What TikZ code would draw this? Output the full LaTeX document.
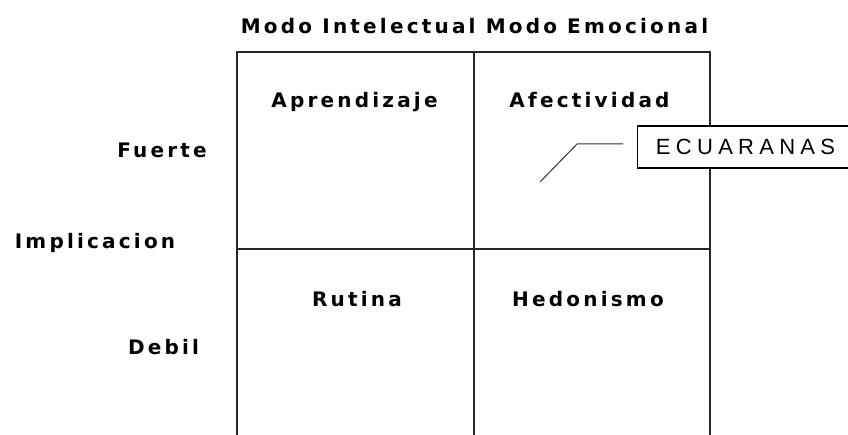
\documentclass[tikz,border=0pt]{standalone}
\usepackage{fontspec}
\newfontfamily\lblfont{DejaVu Sans}[LetterSpace=16]
\newfontfamily\tagfont{Liberation Sans}[LetterSpace=24]
\begin{document}
\begin{tikzpicture}[x=1pt,y=-1pt,
  lbl/.style={font=\lblfont\fontsize{20}{24}\selectfont\bfseries, inner sep=0pt, anchor=base},
  tag/.style={font=\tagfont\fontsize{22}{25}\selectfont, draw, line width=1.1pt, fill=white,
              minimum width=216pt, minimum height=42pt, inner sep=0pt, anchor=west},
  grid/.style={line width=1.3pt, black!85}]
\useasboundingbox (0,0) rectangle (848,435);
\clip (0,0) rectangle (848,435);
% grid
\coordinate (tl) at (237,52);
\coordinate (tm) at (474,52);
\coordinate (tr) at (710,52);
\coordinate (ml) at (237,249);
\coordinate (mr) at (710,249);
\coordinate (bl) at (237,437);
\coordinate (bm) at (474,437);
\coordinate (br) at (710,437);
\draw[grid] (bl) -- (tl) -- (tr) -- (br);
\draw[grid] (tm) -- (bm);
\draw[grid] (ml) -- (mr);
% labels
\node[lbl] (title) at (474.5,34) {Modo Intelectual Modo Emocional};
\node[lbl] (apr) at (354.5,108) {Aprendizaje};
\node[lbl] (afe) at (589.5,108) {Afectividad};
\node[lbl] (rut) at (357,307) {Rutina};
\node[lbl] (hed) at (588,307) {Hedonismo};
\node[lbl] (fue) at (162,158) {Fuerte};
\node[lbl] (imp) at (95,249) {Implicacion};
\node[lbl] (deb) at (163.5,354) {Debil};
% tag box
\node[tag] (ecu) at (637,147) {ECUARANAS};
\coordinate (p0) at (540,182);
\coordinate (p1) at (577,144);
\coordinate (p2) at (623,144);
\draw[line width=1pt, black!80] (p0) -- (p1) -- (p2);
\end{tikzpicture}
\end{document}
